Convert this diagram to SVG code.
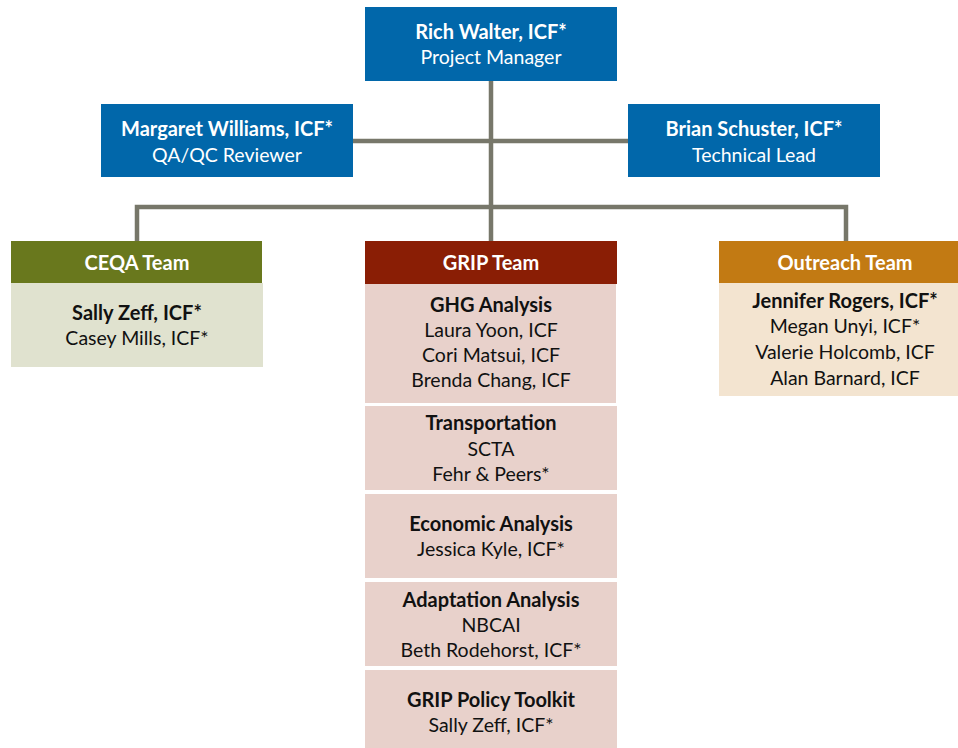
<svg xmlns="http://www.w3.org/2000/svg" width="958" height="748" viewBox="0 0 958 748">
<style>
text{font-family:Lato,"Open Sans","Liberation Sans",sans-serif;font-size:19.5px;text-anchor:middle}
.w{fill:#ffffff}
.k{fill:#111111}
.b{font-weight:bold;font-size:20px}
.blue{fill:#0167AA}
.conn{stroke:#77776A;stroke-width:4.5;fill:none}
</style>
<rect width="958" height="748" fill="#ffffff"/>
<g id="connectors">
<path class="conn" d="M491 80V241"/>
<path class="conn" d="M353 141H628"/>
<path class="conn" d="M137 241V207H846V241"/>
</g>
<g id="rich">
<rect class="blue" x="365" y="7" width="252" height="74"/>
<text class="w b" x="491" y="39">Rich Walter, ICF*</text>
<text class="w" x="491" y="64">Project Manager</text>
</g>
<g id="margaret">
<rect class="blue" x="101" y="104" width="252" height="73"/>
<text class="w b" x="227" y="136">Margaret Williams, ICF*</text>
<text class="w" x="227" y="162">QA/QC Reviewer</text>
</g>
<g id="brian">
<rect class="blue" x="628" y="104" width="252" height="73"/>
<text class="w b" x="754" y="136">Brian Schuster, ICF*</text>
<text class="w" x="754" y="162">Technical Lead</text>
</g>
<g id="ceqa">
<rect x="11" y="241" width="251" height="42" fill="#69781D"/>
<rect x="11" y="283" width="252" height="84" fill="#E0E2CF"/>
<text class="w b" x="137" y="270">CEQA Team</text>
<text class="k b" x="137" y="320">Sally Zeff, ICF*</text>
<text class="k" x="137" y="345">Casey Mills, ICF*</text>
</g>
<g id="grip">
<rect x="365" y="241" width="252" height="43" fill="#8A1E05"/>
<text class="w b" x="491" y="270">GRIP Team</text>
</g>
<g id="ghg">
<rect x="365" y="284" width="251" height="119" fill="#E8D1CB"/>
<text class="k b" x="491" y="312">GHG Analysis</text>
<text class="k" x="491" y="337">Laura Yoon, ICF</text>
<text class="k" x="491" y="362">Cori Matsui, ICF</text>
<text class="k" x="491" y="387">Brenda Chang, ICF</text>
</g>
<g id="transportation">
<rect x="365" y="406" width="252" height="84" fill="#E8D1CB"/>
<text class="k b" x="491" y="430">Transportation</text>
<text class="k" x="491" y="456">SCTA</text>
<text class="k" x="491" y="481">Fehr &amp; Peers*</text>
</g>
<g id="economic">
<rect x="365" y="494" width="252" height="84" fill="#E8D1CB"/>
<text class="k b" x="491" y="531">Economic Analysis</text>
<text class="k" x="491" y="556">Jessica Kyle, ICF*</text>
</g>
<g id="adaptation">
<rect x="365" y="582" width="252" height="84" fill="#E8D1CB"/>
<text class="k b" x="491" y="607">Adaptation Analysis</text>
<text class="k" x="491" y="632">NBCAI</text>
<text class="k" x="491" y="657">Beth Rodehorst, ICF*</text>
</g>
<g id="toolkit">
<rect x="365" y="670" width="252" height="78" fill="#E8D1CB"/>
<text class="k b" x="491" y="707">GRIP Policy Toolkit</text>
<text class="k" x="491" y="732">Sally Zeff, ICF*</text>
</g>
<g id="outreach">
<rect x="719" y="241" width="252" height="42" fill="#C27A13"/>
<rect x="719" y="283" width="252" height="113" fill="#F3E4D0"/>
<text class="w b" x="845" y="270">Outreach Team</text>
<text class="k b" x="845" y="308">Jennifer Rogers, ICF*</text>
<text class="k" x="845" y="333">Megan Unyi, ICF*</text>
<text class="k" x="845" y="359">Valerie Holcomb, ICF</text>
<text class="k" x="845" y="385">Alan Barnard, ICF</text>
</g>
</svg>
